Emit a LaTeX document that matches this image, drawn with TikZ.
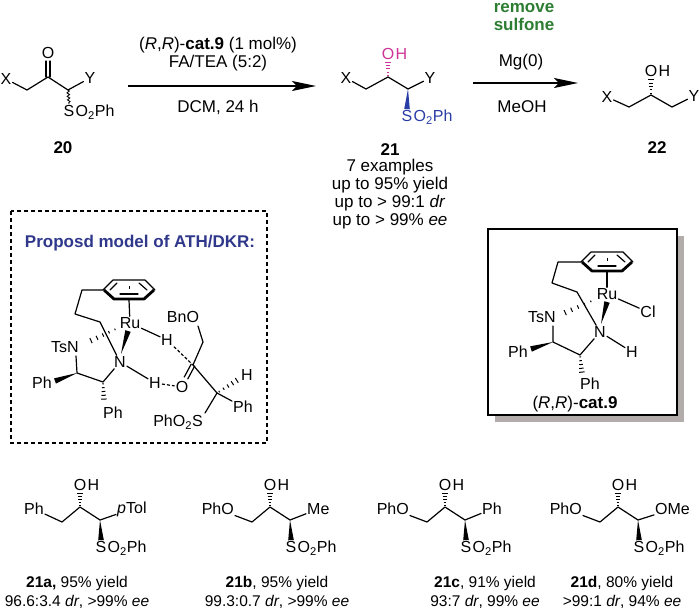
\documentclass[tikz,border=0pt]{standalone}
\usepackage{fontspec}
\setmainfont{Liberation Sans}
\usetikzlibrary{arrows.meta,calc,positioning,decorations.pathmorphing}

\definecolor{modelblue}{RGB}{48,56,140}
\definecolor{sulfblue}{RGB}{40,60,165}
\definecolor{ohpink}{RGB}{205,50,150}
\definecolor{removegreen}{RGB}{45,125,50}
\definecolor{shadowgray}{RGB}{178,172,170}

\tikzset{
  bond/.style={line width=1.2pt, line cap=round, line join=round},
  atom/.style={font=\fontsize{16}{18}\selectfont, inner sep=1pt},
  cond/.style={font=\fontsize{17}{18.5}\selectfont, inner sep=1pt, align=center},
  cmpdno/.style={font=\bfseries\fontsize{17}{18}\selectfont, inner sep=1pt},
  yieldlabel/.style={font=\fontsize{15.5}{19}\selectfont, inner sep=1pt, align=center},
  rxnarrow/.style={line width=1.2pt, -{Stealth[length=24pt,width=10pt,inset=5pt]}},
  hbond/.style={line width=1.2pt, dash pattern=on 3pt off 2pt},
}

% wedge: narrow at #2, wide at #3
\newcommand{\wedgebond}[3][black]{\fill[#1] #2 -- ($#3!2.8pt!90:#2$) -- ($#3!2.8pt!-90:#2$) -- cycle;}
% hashed wedge: narrow at #2, wide at #3
\newcommand{\hashbond}[3][black]{%
  \foreach \t in {0.1,0.3,0.5,0.7,0.9}{%
    \pgfmathsetmacro\hw{0.6+\t*2.4}%
    \draw[line width=1pt,#1] ($#2!\t!#3!\hw pt!90:#3$) -- ($#2!\t!#3!\hw pt!-90:#3$);}}
% double bond between two points
\newcommand{\dbond}[2]{%
  \draw[bond] ($#1!2pt!90:#2$) -- ($#2!2pt!-90:#1$);
  \draw[bond] ($#1!2pt!-90:#2$) -- ($#2!2pt!90:#1$);}
% arene seen edge on
\newcommand{\arene}[1]{%
  \draw[bond] ($(#1)+(-26,0)$) -- ($(#1)+(-16,-10)$) -- ($(#1)+(16,-10)$) -- ($(#1)+(26,0)$);
  \draw[line width=2.8pt, line join=round] ($(#1)+(-25,0)$) -- ($(#1)+(-15,9)$) -- ($(#1)+(15,9)$) -- ($(#1)+(25,0)$);
  \draw[bond] ($(#1)+(-19,0)$) -- ($(#1)+(-12,-7)$);
  \draw[bond] ($(#1)+(10,-7)$) -- ($(#1)+(18,0)$);
  \draw[bond] ($(#1)+(-9,4)$) -- ($(#1)+(9,4)$);
  \draw[line width=1pt] ($(#1)+(0,-4)$) -- ($(#1)+(0,-1)$);}

\begin{document}
\begin{tikzpicture}[x=1pt,y=-1pt]
\useasboundingbox (0,0) rectangle (700,612);

% substrate 20
\node[atom] (x20) at (6,79) {X};
\coordinate (c20a) at (27,90);
\coordinate (c20b) at (48,77);
\coordinate (c20c) at (68,90);
\coordinate (o20b) at (48,61);
\node[atom] (y20) at (90,78) {Y};
\node[atom] (o20) at (48,53) {O};
\node[atom] (s20) at (69,111) {S};
\node[atom, anchor=base west, inner sep=0pt] (so20) at (s20.base east) {O\textsubscript{2}Ph};
\dbond{(c20b)}{(o20b)}
\draw[bond] (x20) -- (c20a) -- (c20b) -- (c20c) -- (y20);
\draw[line width=0.9pt, decorate, decoration={snake, amplitude=1.2pt, segment length=3.5pt}] (c20c) -- (s20.north);
\node[cmpdno] (n20) at (63,148) {20};

% first step
\coordinate (a1s) at (128,86);
\coordinate (a1e) at (316,86);
\draw[rxnarrow] (a1s) -- (a1e);
\node[cond] (cat1) at (218,45) {(\textit{R},\textit{R})-\textbf{cat.9} (1 mol\%)};
\node[cond, below=0pt of cat1] (fatea) {FA/TEA (5:2)};
\node[cond] (dcm) at (218,107) {DCM, 24 h};

% product 21
\node[atom] (x21) at (346,78) {X};
\coordinate (c21a) at (366,89);
\coordinate (c21b) at (388,77);
\coordinate (c21c) at (408,89);
\node[atom] (y21) at (430,78) {Y};
\node[atom, text=ohpink] (o21) at (388,54) {O};
\node[atom, text=ohpink, anchor=base west, inner sep=0pt] (h21) at (o21.base east) {H};
\node[atom, text=sulfblue] (s21) at (407,116) {S};
\node[atom, text=sulfblue, anchor=base west, inner sep=0pt] (so21) at (s21.base east) {O\textsubscript{2}Ph};
\draw[bond] (x21) -- (c21a) -- (c21b) -- (c21c) -- (y21);
\hashbond[ohpink]{(c21b)}{(o21.south)}
\wedgebond[sulfblue]{(c21c)}{(s21.north)}
\node[cmpdno] (n21) at (390,150) {21};
\node[cond, below=1pt of n21, font=\fontsize{17}{17.8}\selectfont] (scope21) {7 examples\\up to 95\% yield\\up to > 99:1 \textit{dr}\\up to > 99\% \textit{ee}};

% second step
\coordinate (a2s) at (473,83);
\coordinate (a2e) at (578,83);
\draw[rxnarrow] (a2s) -- (a2e);
\node[cond, font=\bfseries\fontsize{17}{18}\selectfont, text=removegreen, anchor=base] (rem) at (524,13) {remove};
\node[cond, font=\bfseries\fontsize{17}{18}\selectfont, text=removegreen, anchor=base] (sulf) at (524,31) {sulfone};
\node[cond] (mg) at (521,62) {Mg(0)};
\node[cond] (meoh) at (522,107) {MeOH};

% product 22
\node[atom] (x22) at (607,97) {X};
\coordinate (c22a) at (629,107);
\coordinate (c22b) at (651,95);
\coordinate (c22c) at (672,107);
\node[atom] (y22) at (694,96) {Y};
\node[atom] (o22) at (651,71) {O};
\node[atom, anchor=base west, inner sep=0pt] (h22) at (o22.base east) {H};
\draw[bond] (x22) -- (c22a) -- (c22b) -- (c22c) -- (y22);
\hashbond{(c22b)}{(o22.south)}
\node[cmpdno] (n22) at (657,148) {22};

% proposed model
\draw[line width=1.2pt, dash pattern=on 4pt off 3pt] (11,211) rectangle (267,443);
\node[font=\bfseries\fontsize{17}{18}\selectfont, text=modelblue] (modeltitle) at (140,243) {Proposd model of ATH/DKR:};
\coordinate (ar1) at (129,290);
\arene{ar1}
\coordinate (t1b) at (82,290);
\coordinate (t1c) at (75,314);
\coordinate (t1d) at (100,322);
\node[atom] (ru1) at (130,323) {Ru};
\node[atom] (n1) at (120,362) {N};
\node[atom] (tsn1) at (65,347) {TsN};
\coordinate (tsn1b) at (76,356);
\coordinate (c1a) at (77,373);
\coordinate (c1b) at (103,382);
\node[atom] (ph1a) at (42,383) {Ph};
\node[atom] (ph1b) at (113,413) {Ph};
\node[atom] (h1a) at (155,383) {H};
\node[atom] (h1b) at (167,340) {H};
\node[atom] (o1) at (182,387) {O};
\coordinate (o1t) at (186,378);
\coordinate (ck1) at (193,365);
\coordinate (cm1) at (203,342);
\node[atom] (bno1) at (183,317) {BnO};
\coordinate (bno1o) at (198,326);
\coordinate (ch1) at (217,393);
\node[atom] (h1c) at (247,375) {H};
\node[atom] (ph1c) at (243,407) {Ph};
\node[atom] (pho2s1) at (178,422) {PhO\textsubscript{2}S};
\coordinate (s1t) at (205,413);
\draw[bond] ($(ar1)+(-26,0)$) -- (t1b) -- (t1c) -- (t1d) -- (n1);
\draw[bond] ($(ar1)+(0,10)$) -- (ru1);
\hashbond{(118,328)}{(88,342)}
\wedgebond{(121,354)}{(128,331)}
\draw[bond] (tsn1b) -- (c1a) -- (c1b) -- (n1);
\wedgebond{(c1a)}{(55,381)}
\hashbond{(c1b)}{(104,401)}
\draw[bond] (n1) -- (h1a);
\draw[bond] (ru1) -- (h1b);
\draw[hbond] (h1a) -- (o1);
\draw[hbond] (h1b) -- (ck1);
\dbond{(ck1)}{(o1t)}
\draw[bond] (bno1o) -- (cm1) -- (ck1) -- (ch1) -- (ph1c);
\draw[bond] (ch1) -- (s1t);
\hashbond{(ch1)}{(239,379)}

% catalyst box
\fill[shadowgray] (495,236) rectangle (684,422);
\draw[line width=1.2pt, fill=white] (488,229) rectangle (677,415);
\coordinate (ar2) at (607,262);
\arene{ar2}
\coordinate (t2b) at (558,262);
\coordinate (t2c) at (552,283);
\coordinate (t2d) at (577,292);
\node[atom] (ru2) at (607,294) {Ru};
\node[atom] (cl2) at (648,312) {Cl};
\node[atom] (n2) at (600,332) {N};
\node[atom] (tsn2) at (542,317) {TsN};
\coordinate (tsn2b) at (553,326);
\coordinate (c2a) at (553,342);
\coordinate (c2b) at (580,355);
\node[atom] (ph2a) at (518,352) {Ph};
\node[atom] (ph2b) at (590,384) {Ph};
\node[atom] (h2) at (632,352) {H};
\draw[bond] ($(ar2)+(-26,0)$) -- (t2b) -- (t2c) -- (t2d) -- (n2);
\draw[bond] ($(ar2)+(0,10)$) -- (ru2);
\draw[bond] (ru2) -- (cl2);
\hashbond{(594,300)}{(562,314)}
\wedgebond{(601,324)}{(607,302)}
\draw[bond] (tsn2b) -- (c2a) -- (c2b) -- (n2) -- (h2);
\wedgebond{(c2a)}{(531,349)}
\hashbond{(c2b)}{(582,374)}
\node[cond] (catlabel) at (575,404) {(\textit{R},\textit{R})-\textbf{cat.9}};

% scope
\foreach \vx/\lx/\lft/\rgt/\idx/\la/\lb in {
  62/77/Ph/{\textit{p}Tol}/a/{\textbf{21a,} 95\% yield}/{96.6:3.4 \textit{dr}, >99\% \textit{ee}},
  252/277/PhO/Me/b/{\textbf{21b}, 95\% yield}/{99.3:0.7 \textit{dr}, >99\% \textit{ee}},
  427/485/PhO/Ph/c/{\textbf{21c}, 91\% yield}/{93:7 \textit{dr}, 99\% \textit{ee}},
  600/622/PhO/OMe/d/{\textbf{21d}, 80\% yield}/{>99:1 \textit{dr}, 94\% \textit{ee}}}{
  \coordinate (v\idx) at (\vx,522);
  \coordinate (c\idx) at (\vx+18,507);
  \coordinate (ch\idx) at (\vx+38,520);
  \node[atom, anchor=east] (l\idx) at (\vx-17,509) {\lft};
  \node[atom, anchor=west] (r\idx) at (\vx+54,509) {\rgt};
  \node[atom] (o\idx) at (\vx+18,485) {O};
  \node[atom, anchor=base west, inner sep=0pt] (h\idx) at (o\idx.base east) {H};
  \node[atom] (s\idx) at (\vx+39,547) {S};
  \node[atom, anchor=base west, inner sep=0pt] (so\idx) at (s\idx.base east) {O\textsubscript{2}Ph};
  \draw[bond] (l\idx) -- (v\idx) -- (c\idx) -- (ch\idx) -- (r\idx);
  \hashbond{(c\idx)}{(o\idx.south)}
  \wedgebond{(ch\idx)}{(s\idx.north)}
  \node[yieldlabel] (lab\idx) at (\lx,592) {\la\\\lb};
}
\end{tikzpicture}
\end{document}
